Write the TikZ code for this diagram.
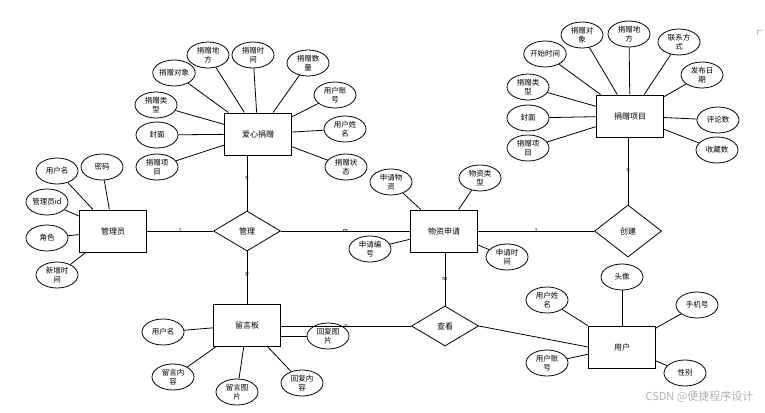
\documentclass[tikz,border=0pt]{standalone}
\usepackage{fontspec}
\setmainfont{Noto Sans CJK SC}
\usetikzlibrary{shapes.geometric, positioning}

\begin{document}
\begin{tikzpicture}[x=1pt,y=-1pt,-,line width=0.8pt,
                    entity/.style={rectangle,draw,line width=1pt,minimum width=67pt,minimum height=42pt,font=\fontsize{8}{10}\selectfont},
                    attr/.style={ellipse,draw,inner sep=0pt,minimum width=42pt,minimum height=26pt,align=center,font=\fontsize{7.5}{8.5}\selectfont},
                    rel/.style={diamond,draw,inner sep=0pt,minimum width=67pt,minimum height=40pt,font=\fontsize{8}{10}\selectfont},
                    card/.style={font=\fontsize{5.5}{6}\selectfont,inner sep=0.5pt}]

  \useasboundingbox (0,0) rectangle (765,412);

  % entities
  \node[entity] (juanzeng) at (258,134) {爱心捐赠};
  \node[entity] (guanliyuan) at (113,231) {管理员};
  \node[entity] (wuzi) at (444,231) {物资申请};
  \node[entity] (xiangmu) at (630,116) {捐赠项目};
  \node[entity] (liuyan) at (247,325) {留言板};
  \node[entity] (yonghu) at (622,347) {用户};

  % relations
  \node[rel] (guanli) at (247,231) {管理};
  \node[rel,minimum height=52pt] (chuangjian) at (628,231) {创建};
  \node[rel] (chakan) at (445,326) {查看};

  % 爱心捐赠
  \node[attr] (jz1) at (208,55) {捐赠地\\方};
  \node[attr] (jz2) at (253,55) {捐赠时\\间};
  \node[attr] (jz3) at (308,63) {捐赠数\\量};
  \node[attr] (jz4) at (174,73) {捐赠对象};
  \node[attr] (jz5) at (335,95) {用户账\\号};
  \node[attr] (jz6) at (156,105) {捐赠类\\型};
  \node[attr] (jz7) at (345,129) {用户姓\\名};
  \node[attr] (jz8) at (157,135) {封面};
  \node[attr] (jz9) at (157,167) {捐赠项\\目};
  \node[attr] (jz10) at (346,167) {捐赠状\\态};

  % 捐赠项目
  \node[attr] (xm1) at (545,54) {开始时间};
  \node[attr] (xm2) at (582,35) {捐赠对\\象};
  \node[attr] (xm3) at (629,34) {捐赠地\\方};
  \node[attr] (xm4) at (679,42) {联系方\\式};
  \node[attr] (xm5) at (702,75) {发布日\\期};
  \node[attr] (xm6) at (528,87) {捐赠类\\型};
  \node[attr] (xm7) at (528,118) {封面};
  \node[attr] (xm8) at (718,120) {评论数};
  \node[attr] (xm9) at (528,148) {捐赠项\\目};
  \node[attr] (xm10) at (717,150) {收藏数};

  % 管理员
  \node[attr] (gly1) at (57,171) {用户名};
  \node[attr] (gly2) at (102,167) {密码};
  \node[attr] (gly3) at (47,202) {管理员id};
  \node[attr] (gly4) at (47,238) {角色};
  \node[attr] (gly5) at (57,275) {新增时\\间};

  % 物资申请
  \node[attr] (wz1) at (391,182) {申请物\\资};
  \node[attr] (wz2) at (480,178) {物资类\\型};
  \node[attr] (wz3) at (370,249) {申请编\\号};
  \node[attr] (wz4) at (507,257) {申请时\\间};

  % 留言板
  \node[attr] (ly1) at (163,332) {用户名};
  \node[attr] (ly2) at (328,336) {回复图\\片};
  \node[attr] (ly3) at (173,377) {留言内\\容};
  \node[attr] (ly4) at (237,392) {留言图\\片};
  \node[attr] (ly5) at (302,383) {回复内\\容};

  % 用户
  \node[attr] (yh1) at (622,277) {头像};
  \node[attr] (yh2) at (547,300) {用户姓\\名};
  \node[attr] (yh3) at (697,305) {手机号};
  \node[attr] (yh4) at (547,363) {用户账\\号};
  \node[attr] (yh5) at (685,373) {性别};

  \path[draw]
    (juanzeng) edge (jz1) edge (jz2) edge (jz3) edge (jz4) edge (jz5)
               edge (jz6) edge (jz7) edge (jz8) edge (jz9) edge (jz10)
    (xiangmu) edge (xm1) edge (xm2) edge (xm3) edge (xm4) edge (xm5)
              edge (xm6) edge (xm7) edge (xm8) edge (xm9) edge (xm10)
    (guanliyuan) edge (gly1) edge (gly2) edge (gly3) edge (gly4) edge (gly5)
    (wuzi) edge (wz1) edge (wz2) edge (wz3) edge (wz4)
    (liuyan) edge (ly1) edge (ly3) edge (ly4) edge (ly5)
    (liuyan.east |- 0,336) edge (ly2)
    (yonghu) edge (yh1) edge (yh2) edge (yh3) edge (yh4) edge (yh5);

  % relations
  \draw (juanzeng.south -| guanli.north) -- node[card,pos=0.4] {n} (guanli.north);
  \draw (guanliyuan) -- node[card] {1} (guanli);
  \draw (guanli.south) -- node[card,pos=0.45] {p} (liuyan.north);
  \draw (guanli) -- node[card,pos=0.5] {m} (wuzi);
  \draw (wuzi) -- node[card,pos=0.5] {1} (chuangjian);
  \draw (chuangjian.north) -- node[card,pos=0.5] {q} (xiangmu.south -| chuangjian.north);
  \draw (wuzi.south -| chakan.north) -- node[card,pos=0.5] {m} (chakan.north);
  \draw (liuyan.east |- chakan.west) -- node[card,pos=0.5] {o} (chakan.west);
  \draw (chakan.east) -- (yonghu.west);

  % watermark
  \node[text=gray!60,font=\fontsize{11}{13}\selectfont,anchor=east] (csdn) at (757,397) {CSDN @便捷程序设计};
  \draw[gray!50,line width=0.4pt] (757,35) -- (757,30) -- (762,30);

\end{tikzpicture}
\end{document}
